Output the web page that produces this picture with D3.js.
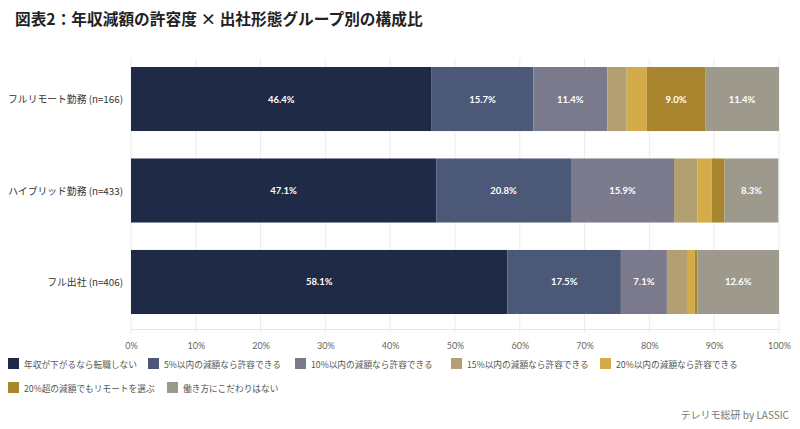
<!DOCTYPE html>
<html><head><meta charset="utf-8">
<script src="https://cdn.jsdelivr.net/npm/d3@7"></script>
<style>
body{margin:0;background:#fff;font-family:"Noto Sans CJK JP","Noto Sans",sans-serif;}
</style></head>
<body><svg id="c" width="800" height="429"></svg>
<script>
const categories = ["フルリモート勤務 (n=166)", "ハイブリッド勤務 (n=433)", "フル出社 (n=406)"];
const seriesNames = ["年収が下がるなら転職しない", "5%以内の減額なら許容できる", "10%以内の減額なら許容できる", "15%以内の減額なら許容できる", "20%以内の減額なら許容できる", "20%超の減額でもリモートを選ぶ", "働き方にこだわりはない"];
const values = [
  [46.4, 15.7, 11.4, 3.0, 3.1, 9.0, 11.4],
  [47.1, 20.8, 15.9, 3.6, 2.2, 2.0, 8.3],
  [58.1, 17.5, 7.1, 3.1, 1.2, 0.4, 12.6]
];
const colors = ["#1f2a47", "#4b5878", "#7b798c", "#b3a072", "#d3ab48", "#a9852f", "#9e998d"];
const xTicks = [0,10,20,30,40,50,60,70,80,90,100];
const title = "図表2：年収減額の許容度 × 出社形態グループ別の構成比";
const source = "テレリモ総研 by LASSIC";

const svg = d3.select("#c");
const m = {left:131, right:21, top:58};
const W = 800, H = 429;
const x = d3.scaleLinear().domain([0,100]).range([m.left, W-m.right]);
const y = d3.scaleBand().domain(categories).range([58, 323]).paddingInner(0.3).paddingOuter(0.0984);

svg.append("text").attr("x",15).attr("y",25).attr("font-size",15.7).attr("font-weight","bold")
  .attr("fill","#222").text(title);

// grid
svg.append("g").selectAll("line").data(xTicks).join("line")
  .attr("x1",d=>x(d)).attr("x2",d=>x(d)).attr("y1",m.top).attr("y2",333)
  .attr("stroke","#ececec").attr("stroke-width",1);
svg.append("line").attr("x1",x(0)).attr("x2",x(100)).attr("y1",329.5).attr("y2",329.5).attr("stroke","#e6e6e6");

// axis labels
const ax = svg.append("g").attr("transform","translate(0,333)")
  .call(d3.axisBottom(x).tickValues(xTicks).tickFormat(d=>d+"%").tickSize(0).tickPadding(10));
ax.select(".domain").remove();
ax.selectAll("text").attr("font-size",9).attr("fill","#666").attr("font-family","Lato,'Noto Sans',sans-serif");

// bars
const rows = svg.append("g").selectAll("g").data(categories).join("g");
rows.each(function(cat, i){
  let cum = 0;
  const segs = values[i].map((v,j)=>{const s={v,j,x0:cum,x1:cum+v}; cum+=v; return s;});
  const g = d3.select(this);
  g.selectAll("rect").data(segs).join("rect")
    .attr("x",d=>x(d.x0)).attr("width",d=>x(d.x1)-x(d.x0))
    .attr("y",y(cat)).attr("height",y.bandwidth()).attr("fill",d=>colors[d.j]);
  g.selectAll("text").data(segs.filter(d=>d.v>=5)).join("text")
    .attr("x",d=>(x(d.x0)+x(d.x1))/2).attr("y",y(cat)+y.bandwidth()/2+3.5)
    .attr("text-anchor","middle").attr("font-size",9.5).attr("font-weight","bold")
    .attr("font-family","Lato,'Noto Sans',sans-serif")
    .attr("fill","#fff").text(d=>d.v.toFixed(1)+"%");
});

// y labels
svg.append("g").selectAll("text").data(categories).join("text")
  .attr("x",123).attr("y",d=>y(d)+y.bandwidth()/2+4).attr("text-anchor","end")
  .attr("font-size",9.8).attr("fill","#333").text(d=>d);

// legend
const legPos = [[8,364],[148,364],[295,364],[451,364],[600,364],[8,388],[167,388]];
const leg = svg.append("g").selectAll("g").data(seriesNames).join("g")
  .attr("transform",(d,i)=>`translate(${legPos[i][0]},${legPos[i][1]})`);
leg.append("rect").attr("x",0).attr("y",-6).attr("width",11).attr("height",11).attr("fill",(d,i)=>colors[i]);
leg.append("text").attr("x",16).attr("y",3.5).attr("font-size",8.7).attr("fill","#555").text(d=>d);

svg.append("text").attr("x",789).attr("y",419).attr("text-anchor","end").attr("font-size",10)
  .attr("fill","#777").text(source);
</script></body></html>
